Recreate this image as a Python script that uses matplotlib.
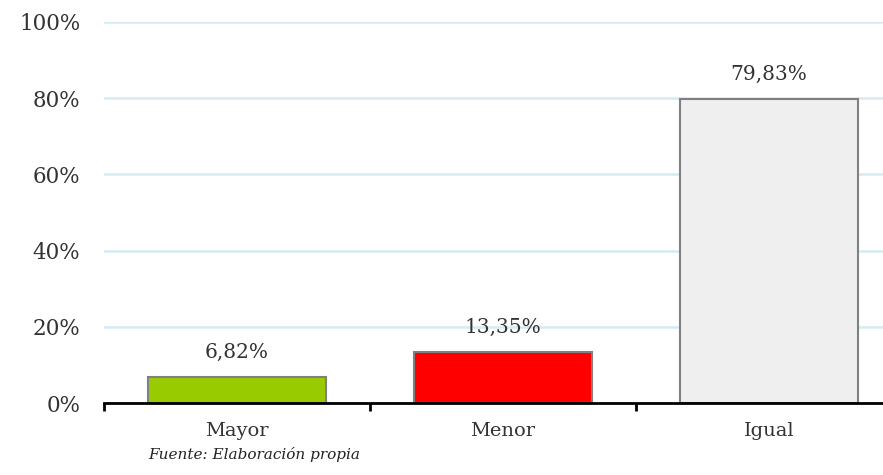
import matplotlib
matplotlib.use("Agg")
import matplotlib.pyplot as plt

categories = ["Mayor", "Menor", "Igual"]
values = [6.82, 13.35, 79.83]
labels = ["6,82%", "13,35%", "79,83%"]
colors = ["#99cc00", "#ff0000", "#efefef"]
yticks = [0, 20, 40, 60, 80, 100]
ytick_labels = ["0%", "20%", "40%", "60%", "80%", "100%"]

plt.rcParams['font.family'] = ['DejaVu Serif']
txt = "#333333"

fig = plt.figure(figsize=(8.83, 4.75), dpi=100)
ax = fig.add_axes([104/883, 72/475, 798/883, 381/475])
x = list(range(len(categories)))
ax.bar(x, values, width=0.67, color=colors, edgecolor="#808080", linewidth=1.5, zorder=3)
ax.set_xlim(-0.5, 2.5)
ax.set_ylim(0, 100)
ax.set_yticks(yticks)
ax.set_yticklabels(ytick_labels, fontsize=15.5, color=txt)
ax.set_xticks(x)
ax.set_xticklabels(categories, fontsize=14, color=txt)
ax.tick_params(axis='x', length=0, pad=14)
ax.tick_params(axis='y', length=0, pad=17)
ax.set_xticks([-0.5, 0.5, 1.5, 2.5], minor=True)
ax.tick_params(axis='x', which='minor', length=6, width=2, color='black', direction='out')
ax.grid(axis='y', color="#d6eaf4", linewidth=1.8, zorder=0)
for s in ['top', 'right', 'left']:
    ax.spines[s].set_visible(False)
ax.spines['bottom'].set_linewidth(2)
ax.spines['bottom'].set_color('black')
ax.spines['bottom'].set_zorder(4)
for xi, v, lab in zip(x, values, labels):
    ax.annotate(lab, (xi, v), xytext=(0, 11), textcoords='offset points',
                ha='center', va='bottom', fontsize=14.5, color=txt)
fig.text(148/883, 1 - 455/475, "Fuente: Elaboración propia", fontsize=11,
         style='italic', color="#222222", ha='left', va='center')
fig.savefig("out.png", dpi=100)
